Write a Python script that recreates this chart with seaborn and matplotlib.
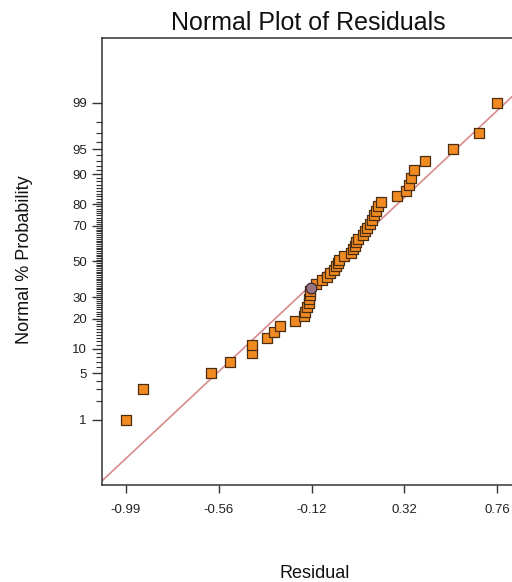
from statistics import NormalDist

import matplotlib
matplotlib.use("Agg")
import matplotlib.pyplot as plt
import numpy as np
import pandas as pd
import seaborn as sns

# Sorted residuals (one per run) and their normal % probability
residuals = [
    -0.994, -0.912, -0.591, -0.502, -0.400, -0.396, -0.325, -0.292, -0.266, -0.197,
    -0.153, -0.148, -0.138, -0.131, -0.127, -0.124, -0.122, -0.120, -0.096, -0.068,
    -0.044, -0.030, -0.013, 0.001, 0.008, 0.013, 0.036, 0.069, 0.079, 0.086,
    0.091, 0.102, 0.126, 0.135, 0.145, 0.159, 0.168, 0.178, 0.187, 0.197,
    0.211, 0.286, 0.329, 0.343, 0.352, 0.367, 0.419, 0.551, 0.673, 0.760,
]
percent = [
    1, 3, 5, 7, 9, 11, 13, 15, 17, 19,
    21, 23, 25, 27, 29, 31, 33, 35, 37, 39,
    41, 43, 45, 47, 49, 51, 53, 55, 57, 59,
    61, 63, 65, 67, 69, 71, 73, 75, 77, 79,
    81, 83, 85, 87, 89, 91, 93, 95, 97, 99,
]
highlighted_run = 17  # run shown with a round marker

# Fitted normal reference line
line_mean = 0.0
line_sd = 0.343

# Labelled probability ticks
prob_ticks = [1, 5, 10, 20, 30, 50, 70, 80, 90, 95, 99]
x_tick_labels = ["-0.99", "-0.56", "-0.12", "0.32", "0.76"]

nd = NormalDist()
df = pd.DataFrame({"residual": residuals, "percent": percent})
df["z"] = [nd.inv_cdf(p / 100.0) for p in df["percent"]]
df["kind"] = ["circle" if i == highlighted_run else "square" for i in range(len(df))]

sns.set_style("ticks")
plt.rcParams["font.family"] = ["Liberation Sans", "DejaVu Sans"]

fig = plt.figure(figsize=(5.12, 5.82), dpi=100)
ax = fig.add_axes([102 / 512, 97 / 582, 419 / 512, 447.3 / 582])

xmin, xmax = min(residuals), max(residuals)
pad = 0.112
ax.set_xlim(xmin - pad, xmax + pad)
ax.set_ylim(-3.285, 3.285)

# reference line across the whole x range
xl = np.array(ax.get_xlim())
ax.plot(xl, (xl - line_mean) / line_sd, color="#d98a8c", lw=1.2, zorder=2)

sq = df[df["kind"] == "square"]
ci = df[df["kind"] == "circle"]
sns.scatterplot(data=sq, x="residual", y="z", marker="s", s=52,
                color="#f28a22", edgecolor="#4a2e12", linewidth=0.9,
                ax=ax, zorder=3, legend=False)
sns.scatterplot(data=ci, x="residual", y="z", marker="o", s=60,
                color="#977482", edgecolor="#3a2630", linewidth=0.9,
                ax=ax, zorder=4, legend=False)

# axes styling
for side in ["left", "bottom", "top"]:
    ax.spines[side].set_color("#333333")
    ax.spines[side].set_linewidth(1.1)
ax.spines["right"].set_visible(False)

ax.set_xticks(np.linspace(xmin, xmax, 5))
ax.set_xticklabels(x_tick_labels)
ax.set_yticks([nd.inv_cdf(p / 100.0) for p in prob_ticks])
ax.set_yticklabels([str(p) for p in prob_ticks])
minor = [nd.inv_cdf(p / 100.0) for p in range(1, 100) if p not in prob_ticks]
ax.set_yticks(minor, minor=True)

ax.tick_params(axis="x", direction="out", length=6, width=1.0, color="#333333",
               pad=8, labelsize=9.5, labelcolor="#222222")
ax.tick_params(axis="y", which="major", direction="out", length=7, width=1.0,
               color="#333333", pad=4, labelsize=9.5, labelcolor="#222222")
ax.tick_params(axis="y", which="minor", direction="out", length=4, width=0.8,
               color="#333333", left=True)

ax.set_xlabel("")
ax.set_ylabel("")
fig.text(308 / 512, 1 - 29.5 / 582, "Normal Plot of Residuals", ha="center",
         va="baseline", fontsize=18, color="#111111")
fig.text(315 / 512, 1 - 578 / 582, "Residual", ha="center", va="baseline",
         fontsize=13, color="#111111")
fig.text(25 / 512, 1 - 260 / 582, "Normal % Probability", ha="center",
         va="center", rotation=90, fontsize=13, color="#111111")

fig.savefig("out.png", dpi=100)
